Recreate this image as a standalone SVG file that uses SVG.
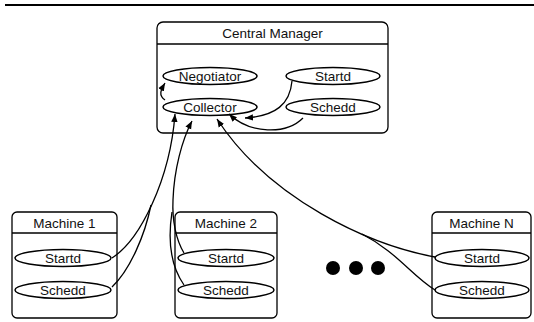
<svg xmlns="http://www.w3.org/2000/svg" width="534" height="322" viewBox="0 0 534 322">
  <style>
    .box { fill: #ffffff; stroke: #000000; stroke-width: 1.3; }
    .sep { stroke: #000000; stroke-width: 1.3; }
    .proc { fill: #ffffff; stroke: #000000; stroke-width: 1.5; }
    .title, .label { font-family: "Liberation Sans", Arial, sans-serif; font-size: 13.5px; fill: #111111; text-anchor: middle; }
    .link { fill: none; stroke: #000000; stroke-width: 1.3; }
    .arrow { marker-end: url(#head); }
  </style>
  <defs>
    <marker id="head" markerUnits="userSpaceOnUse" markerWidth="9" markerHeight="8" refX="8" refY="4" orient="auto">
      <path d="M0,0.8 L8,4 L0,7.2 Z" fill="#000000"/>
    </marker>
  </defs>

  <rect width="534" height="322" fill="#ffffff"/>
  <!-- rule across the top -->
  <line x1="5" y1="5" x2="534" y2="5" stroke="#000000" stroke-width="2"/>

  <!-- central manager -->
  <g id="central-manager">
    <rect class="box" x="157" y="22" width="231" height="111" rx="6"/>
    <line class="sep" x1="157" y1="44" x2="388" y2="44"/>
    <text class="title" x="272.5" y="38">Central Manager</text>
  </g>
  <g id="negotiator">
    <ellipse class="proc" cx="210" cy="76" rx="47" ry="8.5"/>
    <text class="label" x="210" y="81">Negotiator</text>
  </g>
  <g id="cm-startd">
    <ellipse class="proc" cx="333" cy="76" rx="47" ry="8.5"/>
    <text class="label" x="333" y="81">Startd</text>
  </g>
  <g id="collector">
    <ellipse class="proc" cx="210" cy="107" rx="47" ry="8.5"/>
    <text class="label" x="210" y="112">Collector</text>
  </g>
  <g id="cm-schedd">
    <ellipse class="proc" cx="333" cy="107" rx="47" ry="8.5"/>
    <text class="label" x="333" y="112">Schedd</text>
  </g>

  <!-- machine 1 -->
  <g id="machine-1">
    <rect class="box" x="12" y="212" width="105" height="106" rx="5"/>
    <line class="sep" x1="12" y1="233" x2="117" y2="233"/>
    <text class="title" x="64.5" y="228">Machine 1</text>
  </g>
  <g id="m1-startd">
    <ellipse class="proc" cx="63" cy="258" rx="48" ry="8.5"/>
    <text class="label" x="63" y="263">Startd</text>
  </g>
  <g id="m1-schedd">
    <ellipse class="proc" cx="63" cy="290" rx="48" ry="8.5"/>
    <text class="label" x="63" y="295">Schedd</text>
  </g>

  <!-- machine 2 -->
  <g id="machine-2">
    <rect class="box" x="175" y="212" width="102" height="106" rx="5"/>
    <line class="sep" x1="175" y1="233" x2="277" y2="233"/>
    <text class="title" x="226" y="228">Machine 2</text>
  </g>
  <g id="m2-startd">
    <ellipse class="proc" cx="226" cy="258" rx="48" ry="8.5"/>
    <text class="label" x="226" y="263">Startd</text>
  </g>
  <g id="m2-schedd">
    <ellipse class="proc" cx="226" cy="290" rx="48" ry="8.5"/>
    <text class="label" x="226" y="295">Schedd</text>
  </g>

  <!-- ellipsis between machines -->
  <g id="more-machines" fill="#000000">
    <circle cx="333" cy="268" r="7"/>
    <circle cx="356" cy="268" r="7"/>
    <circle cx="378" cy="268" r="7"/>
  </g>

  <!-- machine N -->
  <g id="machine-n">
    <rect class="box" x="432" y="212" width="99" height="106" rx="5"/>
    <line class="sep" x1="432" y1="233" x2="531" y2="233"/>
    <text class="title" x="481.5" y="228">Machine N</text>
  </g>
  <g id="mn-startd">
    <ellipse class="proc" cx="482" cy="258" rx="47" ry="8.5"/>
    <text class="label" x="482" y="263">Startd</text>
  </g>
  <g id="mn-schedd">
    <ellipse class="proc" cx="482" cy="290" rx="47" ry="8.5"/>
    <text class="label" x="482" y="295">Schedd</text>
  </g>

  <!-- connectors -->
  <g id="connectors">
    <!-- inside the central manager -->
    <path class="link arrow" d="M165,100 C158,95 161,90 165,83"/>
    <path class="link arrow" d="M292,81 C290,104 276,116 245,118"/>
    <path class="link arrow" d="M303,118 C286,135 250,134 229,114"/>
    <!-- machine 1 -->
    <path class="link arrow" d="M112,258 C140,240 170,180 175,114"/>
    <path class="link" d="M112,287 C130,270 145,235 151,205"/>
    <!-- machine 2 -->
    <path class="link arrow" d="M184,253 C176,240 172,220 173,200 C174,170 182,140 192,121"/>
    <path class="link" d="M184,285 C170,265 168,238 172,212"/>
    <!-- machine N -->
    <path class="link arrow" d="M435,257 C370,245 270,200 217,119"/>
    <path class="link" d="M435,290 C412,276 397,252 362,234"/>
  </g>
</svg>
